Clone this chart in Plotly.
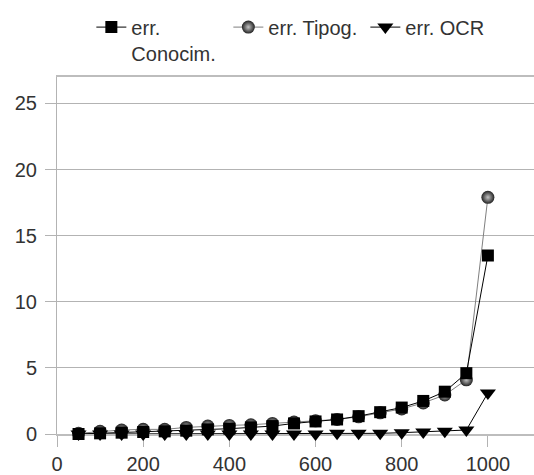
import plotly.graph_objects as go

x_vals = [50, 100, 150, 200, 250, 300, 350, 400, 450, 500,
          550, 600, 650, 700, 750, 800, 850, 900, 950, 1000]
err_conocim = [0.0, 0.05, 0.1, 0.15, 0.2, 0.25, 0.35, 0.4, 0.5, 0.6,
               0.8, 0.95, 1.1, 1.35, 1.65, 2.0, 2.5, 3.2, 4.6, 13.5]
err_tipog = [0.05, 0.2, 0.3, 0.35, 0.35, 0.5, 0.6, 0.65, 0.7, 0.8,
             0.9, 1.0, 1.1, 1.3, 1.6, 1.9, 2.35, 2.95, 4.1, 17.9]
err_ocr = [0.0, 0.0, 0.0, 0.0, 0.0, 0.0, 0.0, 0.0, 0.0, 0.0,
           0.0, 0.0, 0.05, 0.05, 0.05, 0.1, 0.15, 0.2, 0.3, 3.1]
x_ticks = [0, 200, 400, 600, 800, 1000]
y_ticks = [0, 5, 10, 15, 20, 25]

fig = go.Figure()
fig.add_trace(go.Scatter(
    x=x_vals, y=err_tipog, mode="lines+markers", name="err. Tipog.",
    legendrank=2, cliponaxis=False,
    line=dict(color="#7f7f7f", width=1),
    marker=dict(symbol="circle", size=13, color="#222222",
                gradient=dict(type="radial", color="#c4c4c4"),
                line=dict(width=0))))
fig.add_trace(go.Scatter(
    x=x_vals, y=err_conocim, mode="lines+markers", name="err.<br>Conocim.",
    legendrank=1, cliponaxis=False,
    line=dict(color="#000000", width=1),
    marker=dict(symbol="square", size=12, color="#000000", line=dict(width=0))))
fig.add_trace(go.Scatter(
    x=x_vals, y=err_ocr, mode="lines+markers", name="err. OCR",
    legendrank=3, cliponaxis=False,
    line=dict(color="#000000", width=1),
    marker=dict(symbol="triangle-down", size=14, color="#000000", line=dict(width=0))))

fig.update_layout(
    width=534, height=475,
    margin=dict(l=57, r=0, t=77, b=41, autoexpand=False),
    paper_bgcolor="white", plot_bgcolor="white",
    font=dict(family="Liberation Sans, Arial, sans-serif", size=20, color="#333333"),
    legend=dict(orientation="h", x=0.072, xanchor="left", y=0.984, yanchor="top",
                yref="container", font=dict(size=20, color="#333333"),
                valign="top", itemwidth=30, tracegroupgap=0,
                entrywidthmode="pixels", entrywidth=92),
    showlegend=True,
    xaxis=dict(range=[0, 1107], tickvals=x_ticks, showgrid=False, zeroline=False,
               ticks="outside", ticklen=11, tickcolor="#b3b3b3",
               showline=True, mirror=True, linecolor="#bdbdbd", linewidth=1.5,
               automargin=False, ticklabelstandoff=0, layer="below traces",
               tickfont=dict(size=20, color="#333333")),
    yaxis=dict(range=[0, 27], tickvals=y_ticks, showgrid=True, gridcolor="#b3b3b3",
               zeroline=False, ticks="outside", ticklen=11, tickcolor="#b3b3b3",
               showline=True, linecolor="#b3b3b3", linewidth=1,
               automargin=False, ticklabelstandoff=4, layer="below traces",
               tickfont=dict(size=20, color="#333333")),
)
fig.write_html("out.html", config={"displayModeBar": False},
               post_script="document.body.style.margin='0';")
